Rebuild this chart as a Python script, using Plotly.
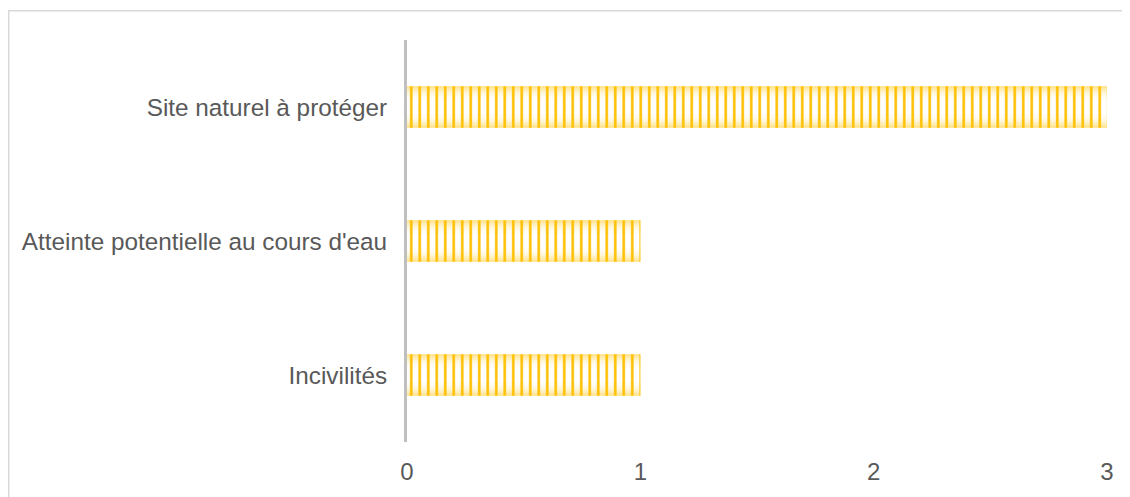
import plotly.graph_objects as go

categories = ["Incivilités", "Atteinte potentielle au cours d'eau", "Site naturel à protéger"]
values = [1, 1, 3]
x_ticks = [0, 1, 2, 3]

# page body has an 8px margin
W, H = 1122, 489
L, R, T, B = 399, 23, 32, 55

fig = go.Figure()

# vertical gradient imitation: stacked layers of decreasing width
layers = [(0.31, "#FFE080"), (0.29, "#FFE9A6"), (0.26, "#FFF0C4"), (0.22, "#FFF7DF"), (0.17, "#FFFCF3"), (0.11, "#FFFFFF")]
for w, c in layers:
    fig.add_trace(go.Bar(
        x=values, y=categories, orientation="h", width=w,
        marker=dict(color=c, line=dict(width=0)),
        hoverinfo="skip", showlegend=False,
    ))

fig.add_trace(go.Bar(
    x=values, y=categories, orientation="h", width=0.31,
    marker=dict(
        color="rgba(0,0,0,0)",
        line=dict(width=0),
        pattern=dict(shape="|", fgcolor="#FFC000", bgcolor="rgba(0,0,0,0)",
                     size=8.5, solidity=0.3, fillmode="overlay", fgopacity=1),
    ),
    showlegend=False,
))

pw = W - L - R
ph = H - T - B
fig.add_shape(
    type="rect", xref="paper", yref="paper",
    x0=(0.75 - L) / pw, x1=(W + 5 - L) / pw,
    y0=-(H + 5 - T - ph) / ph, y1=(H - 2.75 - B) / ph,
    line=dict(color="#D9D9D9", width=1.5), layer="below",
)

fig.update_layout(
    width=W, height=H,
    margin=dict(l=L, r=R, t=T, b=B, pad=0),
    paper_bgcolor="white", plot_bgcolor="white",
    barmode="overlay",
    font=dict(family="Liberation Sans, Arial, sans-serif", size=24, color="#595959"),
    showlegend=False,
)
fig.update_xaxes(
    range=[0, 3], tickvals=x_ticks, ticktext=[str(t) for t in x_ticks],
    showgrid=False, zeroline=False, showline=False, ticks="",
    ticklabelstandoff=13, tickfont=dict(size=24, color="#595959"),
)
fig.update_yaxes(
    categoryorder="array", categoryarray=categories,
    showgrid=False, zeroline=False, showline=True, linecolor="#BFBFBF", linewidth=3,
    ticks="", ticklabelstandoff=12, tickfont=dict(size=24.3, color="#595959"),
)

fig.write_html("out.html")
